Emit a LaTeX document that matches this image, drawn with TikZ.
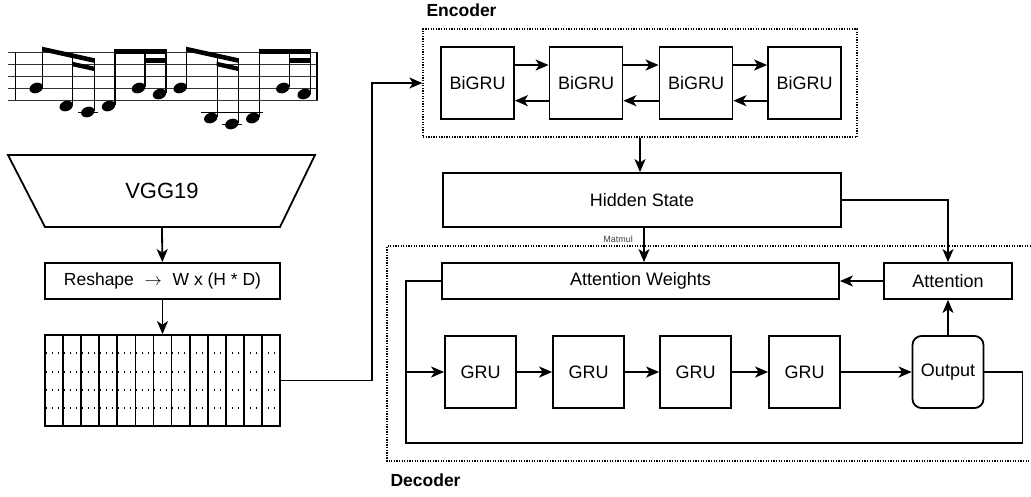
\documentclass[tikz,border=0pt]{standalone}
\usepackage{fontspec}
\setmainfont{Liberation Sans}
\usetikzlibrary{arrows.meta,positioning}

% one note: stem x, head y, stem top
\newcommand{\mnote}[3]{%
  \fill[rotate around={20:({#1-6.5},#2)}] ({#1-6.5},#2) ellipse (6.9pt and 5.1pt);
  \draw[line width=1.3pt] (#1,{#2-1.5}) -- (#1,#3);}

\tikzset{
  box/.style={draw, line width=1.8pt, inner sep=0pt, font=\fontsize{18}{21}\selectfont},
  frame/.style={draw, line width=1.3pt, dash pattern=on 1.3pt off 1.3pt},
  arr/.style={line width=1.8pt, -{Stealth[length=13pt,width=11pt,inset=3.5pt]}},
  link/.style={line width=1.8pt},
  title/.style={anchor=base west, font=\bfseries\fontsize{17.5}{20}\selectfont}
}

\begin{document}
\begin{tikzpicture}[x=1pt,y=-1pt]
    \useasboundingbox (0,0) rectangle (1031,496);

    % staff
    \foreach \y in {52,64,76,88,100}
        \draw[line width=1pt, black!80] (8,\y) -- (318,\y);
    \draw[line width=1.3pt] (15.7,52) -- (15.7,100);
    \draw[line width=1.8pt] (317,52) -- (317,100);
    \draw[line width=1pt] (78,112.3) -- (98,112.3) (201,112.3) -- (263,112.3) (222,124.4) -- (242,124.4);
    \mnote{42.7}{88}{46.7} \mnote{72.7}{106}{53.4} \mnote{94.3}{112}{58.3}
    \mnote{115}{106}{49.3} \mnote{145}{88}{49.3} \mnote{166}{94}{49.3}
    \mnote{186.7}{88}{46.7} \mnote{217.3}{118}{53.6} \mnote{238.3}{124}{58.3}
    \mnote{259.3}{118}{49.3} \mnote{289.3}{88}{49.3} \mnote{310.7}{94}{49.3}
    \fill (42.1,46.7) -- (94.9,58.3) -- (94.9,63) -- (42.1,51.4) -- cycle;
    \fill (72.1,61.7) -- (94.9,66.7) -- (94.9,71.2) -- (72.1,66.2) -- cycle;
    \fill (114.4,49.3) rectangle (166.6,54);
    \fill (144.4,58.3) rectangle (166.6,63);
    \fill (186.1,46.7) -- (238.9,58.3) -- (238.9,63) -- (186.1,51.4) -- cycle;
    \fill (216.7,61.7) -- (238.9,66.7) -- (238.9,71.2) -- (216.7,66.2) -- cycle;
    \fill (258.7,49.3) rectangle (310.9,54);
    \fill (288.7,58.3) rectangle (310.9,63);

    % VGG19
    \draw[line width=1.8pt] (8,155) -- (315,155) -- (280,227) -- (45,227) -- cycle;
    \node[font=\fontsize{22}{26}\selectfont] (vgg) at (162,191) {VGG19};
    \coordinate (vggbot) at (162,227);
    \node[box, minimum width=235pt, minimum height=36pt, font=\fontsize{17.5}{20}\selectfont] (reshape) at (162.5,281) {Reshape\,\, $\rightarrow$\,\, W x (H * D)};

    % feature columns
    \node[box, minimum width=235pt, minimum height=91pt] (grid) at (162.5,380.5) {};
    \foreach \i in {1,...,12}
        \draw[line width=1.8pt] ({45+18.08*\i},335) -- ({45+18.08*\i},426);
    \foreach \y in {353,372,390,408}
        \draw[line width=1.2pt, dash pattern=on 1.2pt off 4.8pt] (46,\y) -- (279,\y);

    \draw[arr] (vggbot) -- (reshape);
    \draw[arr] (reshape) -- (grid);

    % encoder
    \node[title] (enclabel) at (423,16.5) {Encoder};
    \node[frame, minimum width=434pt, minimum height=108pt] (encoder) at (640,83) {};
    \node[box, minimum width=73pt, minimum height=72pt] (enc1) at (477.5,83) {BiGRU};
    \node[box, minimum width=73pt, minimum height=72pt] (enc2) at (586,83) {BiGRU};
    \node[box, minimum width=73pt, minimum height=72pt] (enc3) at (696,83) {BiGRU};
    \node[box, minimum width=73pt, minimum height=72pt] (enc4) at (804.5,83) {BiGRU};
    \foreach \a/\b in {enc1/enc2,enc2/enc3,enc3/enc4} {
        \draw[arr] ([yshift=18pt]\a.east) -- ([yshift=18pt]\b.west);
        \draw[arr] ([yshift=-17.7pt]\b.west) -- ([yshift=-17.7pt]\a.east);
    }
    \draw[arr] (grid.east) -- ++(91,0) |- (encoder.west);

    \node[box, minimum width=398pt, minimum height=54pt] (hidden) at (642,200) {Hidden State};
    \draw[arr] (encoder.south) -- (encoder.south |- hidden.north);

    % decoder
    \draw[frame] (1031,246) -- (387,246) -- (387,461) -- (1031,461);
    \node[title] (declabel) at (387,486) {Decoder};
    \node[box, minimum width=397pt, minimum height=36pt] (attw) at (640.5,281) {Attention Weights};
    \node[box, minimum width=128pt, minimum height=36pt] (attn) at (948,281) {Attention};
    \node[box, minimum width=71pt, minimum height=72pt, rounded corners=9pt] (output) at (948,372) {Output};
    \node[box, minimum width=71pt, minimum height=72pt] (gru1) at (480.5,372) {GRU};
    \node[box, minimum width=71pt, minimum height=72pt] (gru2) at (588.5,372) {GRU};
    \node[box, minimum width=71pt, minimum height=72pt] (gru3) at (695.5,372) {GRU};
    \node[box, minimum width=71pt, minimum height=72pt] (gru4) at (804.5,372) {GRU};
    \coordinate (loop) at (406,443);

    \draw[arr] ([xshift=2pt]hidden.south) -- ([xshift=2pt]hidden.south |- attw.north)
        node[pos=0.32, anchor=east, xshift=-7pt, font=\fontsize{9}{10}\selectfont, black!75] {Matmul};
    \draw[arr] (hidden.east) -| (attn.north);
    \draw[arr] (attn.west) -- (attw.east);
    \draw[arr] (output.north) -- (attn.south);
    \foreach \a/\b in {gru1/gru2,gru2/gru3,gru3/gru4,gru4/output}
        \draw[arr] (\a) -- (\b);
    \draw[arr] (output.east) -- ++(38,0) |- (loop) |- (gru1.west);
    \draw[link] (attw.west) -| (gru1.west -| loop);
\end{tikzpicture}
\end{document}
